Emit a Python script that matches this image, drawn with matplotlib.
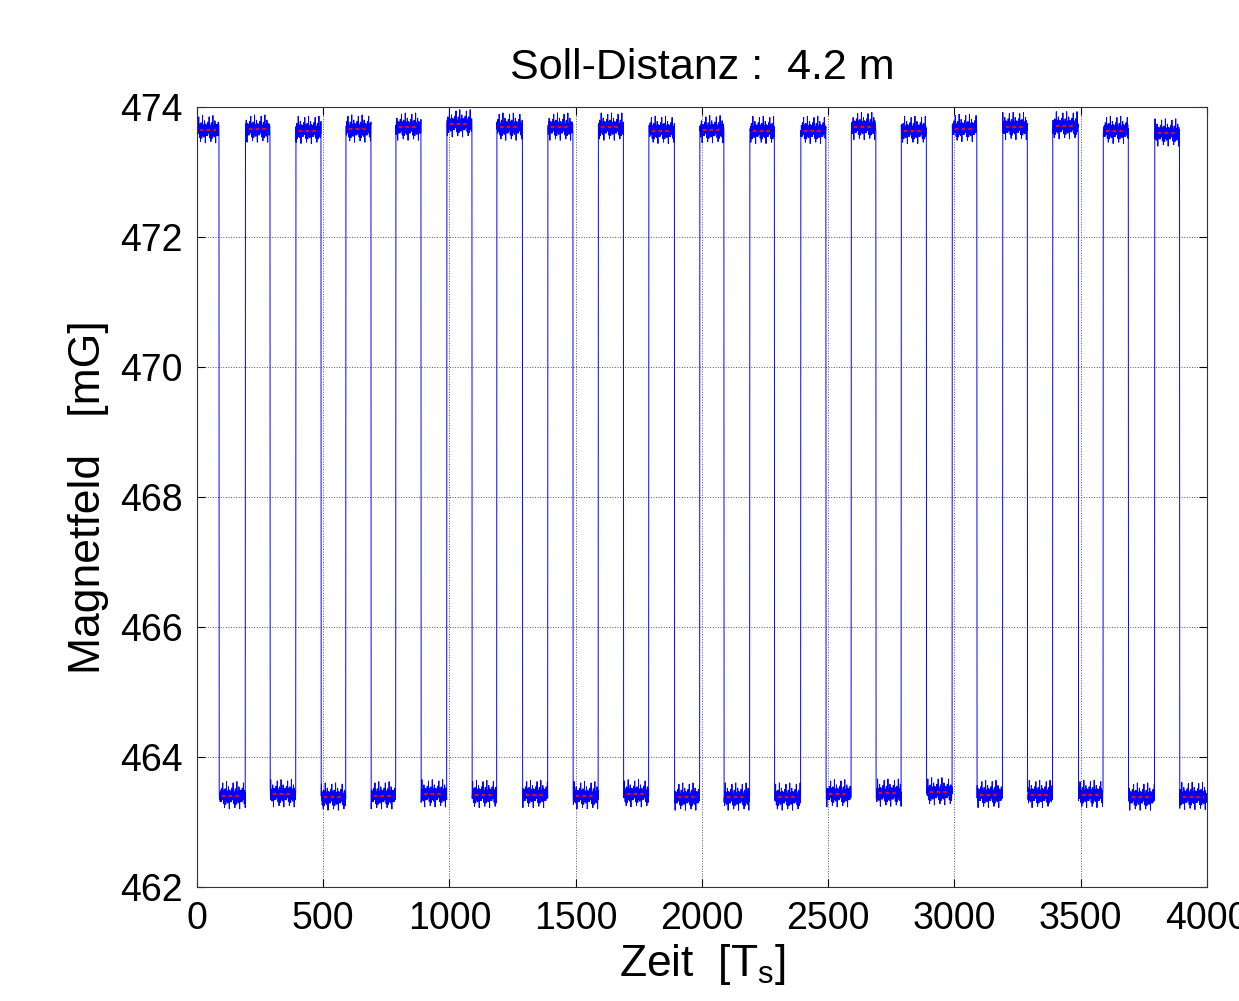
import numpy as np
import matplotlib.pyplot as plt

plt.rcParams['font.family'] = ['Liberation Sans', 'DejaVu Sans']
plt.rcParams['mathtext.fontset'] = 'custom'
plt.rcParams['mathtext.rm'] = 'Liberation Sans'
plt.rcParams['mathtext.it'] = 'Liberation Sans'

# mean level of each plateau (mG), alternating high / low, 40 segments
high_levels = [473.65, 473.66, 473.64, 473.66, 473.69, 473.74, 473.69, 473.69, 473.69, 473.64,
               473.65, 473.64, 473.64, 473.70, 473.64, 473.67, 473.70, 473.71, 473.64, 473.60]
low_levels = [463.40, 463.43, 463.38, 463.40, 463.43, 463.42, 463.42, 463.40, 463.43, 463.38,
              463.38, 463.38, 463.43, 463.44, 463.46, 463.42, 463.42, 463.42, 463.38, 463.39]
# transitions between plateaus (samples)
edges = [0, 88, 192, 290, 392, 492, 590, 690, 788, 888, 990, 1090, 1188, 1290, 1390, 1490,
         1590, 1690, 1790, 1892, 1992, 2088, 2190, 2288, 2392, 2492, 2592, 2690, 2790, 2890,
         2992, 3090, 3192, 3290, 3390, 3492, 3590, 3690, 3794, 3893, 4000]
# sample-to-sample scatter on a plateau (mG)
noise = [0.05, -0.09, 0.12, -0.03, 0.08, -0.06, 0.02, 0.20, -0.05, 0.09, -0.12, 0.03, -0.02,
         0.06, -0.18, 0.05, 0.11, -0.08, 0.00, -0.13, 0.08, -0.03, 0.22, -0.09, 0.06, -0.02,
         0.03, -0.11, 0.08, -0.05, 0.14, -0.08, 0.02, -0.20, 0.09, -0.06, 0.05, 0.00, -0.09,
         0.08, -0.03]

levels = []
for h, l in zip(high_levels, low_levels):
    levels += [h, l]

t_all, y_all = [], []
red = []
for i, lev in enumerate(levels):
    t = np.arange(edges[i], edges[i + 1])
    nz = np.roll(noise, i * 7)
    d = np.resize(nz, len(t))
    t_all.append(t)
    y_all.append(lev + d)
    red.append((t[12:-12], np.full(len(t[12:-12]), lev)))
t_all = np.concatenate(t_all)
y_all = np.concatenate(y_all)

fig = plt.figure(figsize=(12.39, 10.01), dpi=100)
ax = fig.add_axes([0.159, 0.114, 0.815, 0.779])
ax.plot(t_all, y_all, color=(0, 0, 1), lw=0.7)
for tr, yr in red:
    ax.plot(tr, yr, color='red', lw=1.6, ls=(0, (1.5, 1.5)))

ax.set_xlim(0, 4000)
ax.set_ylim(462, 474)
ax.set_xticks(np.arange(0, 4001, 500))
ax.set_yticks(np.arange(462, 475, 2))
ax.grid(True, ls=':', color='#555555', lw=0.7)
ax.tick_params(direction='in', top=True, right=True, labelsize=27, length=6)
ax.tick_params(axis='x', pad=10)
ax.tick_params(axis='y', pad=10)
for s in ax.spines.values():
    s.set_color('#333333')
    s.set_linewidth(0.8)

ax.set_title('Soll-Distanz :  4.2 m', fontsize=31, pad=20)
ax.set_xlabel(r'Zeit  [T$_{\mathrm{s}}$]', fontsize=32, labelpad=4)
ax.set_ylabel('Magnetfeld   [mG]', fontsize=32, labelpad=8)

fig.savefig('out.png', dpi=100)
